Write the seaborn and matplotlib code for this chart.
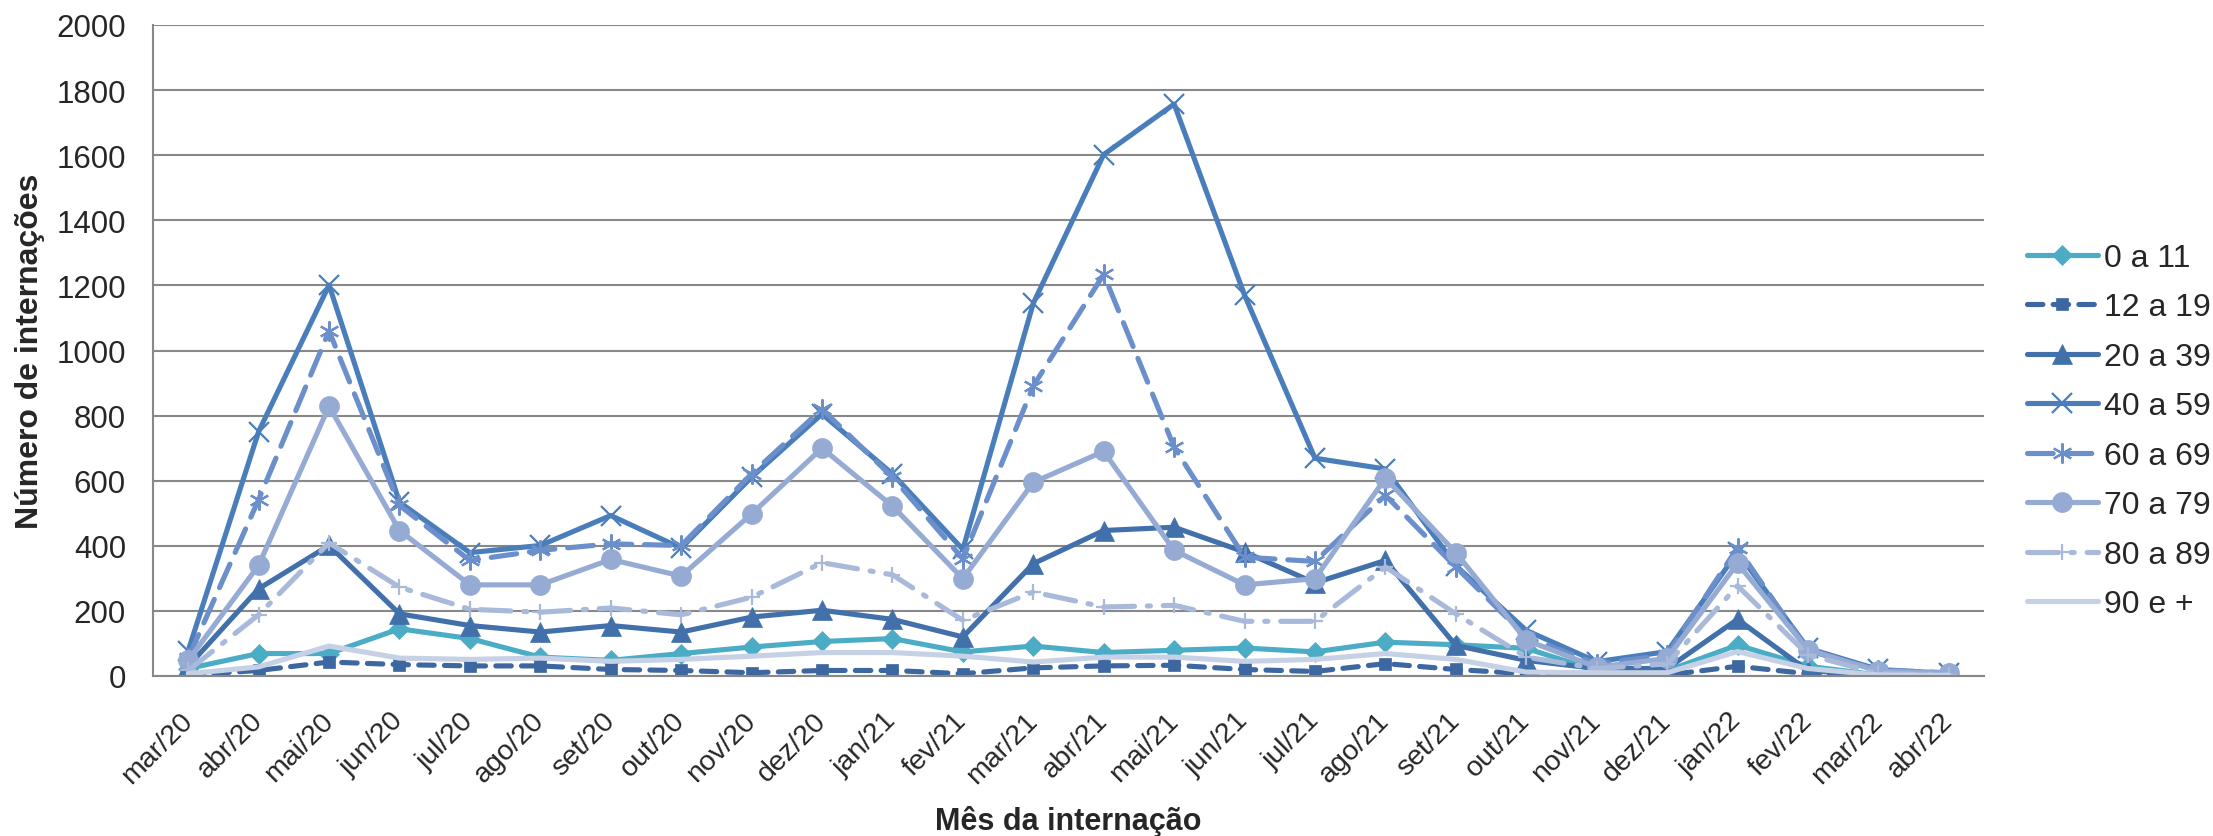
import numpy as np
import pandas as pd
import seaborn as sns
import matplotlib.pyplot as plt
from matplotlib.ticker import FixedLocator, MultipleLocator

months = ['mar/20', 'abr/20', 'mai/20', 'jun/20', 'jul/20', 'ago/20', 'set/20', 'out/20',
          'nov/20', 'dez/20', 'jan/21', 'fev/21', 'mar/21', 'abr/21', 'mai/21', 'jun/21',
          'jul/21', 'ago/21', 'set/21', 'out/21', 'nov/21', 'dez/21', 'jan/22', 'fev/22',
          'mar/22', 'abr/22']

age_0_11 = [23, 69, 69, 145, 115, 58, 48, 69, 89, 106, 115, 74, 92, 72, 79, 86, 74, 104, 96, 85, 16, 16, 95, 30, 3, 1]
age_12_19 = [3, 17, 43, 35, 31, 31, 20, 17, 10, 17, 17, 7, 25, 31, 33, 20, 14, 38, 20, 7, 7, 3, 30, 7, 2, 1]
age_20_39 = [30, 268, 401, 191, 155, 135, 155, 135, 181, 202, 174, 120, 345, 447, 457, 381, 286, 355, 94, 48, 23, 23, 174, 16, 5, 2]
age_40_59 = [78, 751, 1201, 534, 379, 401, 493, 393, 611, 805, 621, 389, 1145, 1602, 1757, 1170, 669, 636, 339, 140, 44, 75, 380, 85, 20, 8]
age_60_69 = [55, 542, 1060, 524, 355, 386, 406, 401, 621, 820, 611, 360, 891, 1234, 703, 365, 352, 555, 335, 120, 37, 65, 394, 78, 18, 10]
age_70_79 = [48, 340, 829, 447, 280, 280, 358, 307, 498, 700, 522, 299, 595, 690, 386, 280, 299, 608, 379, 110, 27, 54, 346, 81, 15, 8]
age_80_89 = [17, 188, 409, 273, 205, 196, 209, 188, 242, 348, 311, 171, 258, 212, 217, 168, 168, 335, 191, 58, 23, 37, 277, 65, 8, 3]
age_90 = [7, 28, 92, 55, 51, 55, 45, 51, 61, 72, 72, 61, 43, 58, 58, 45, 51, 69, 51, 12, 10, 10, 75, 23, 3, 2]

series = {
    '0 a 11': age_0_11,
    '12 a 19': age_12_19,
    '20 a 39': age_20_39,
    '40 a 59': age_40_59,
    '60 a 69': age_60_69,
    '70 a 79': age_70_79,
    '80 a 89': age_80_89,
    '90 e +': age_90,
}

# colour, marker, marker size, dash pattern (None = solid)
looks = {
    '0 a 11': ('#4BACC6', 'D', 10, None),
    '12 a 19': ('#3C67A0', 's', 8.6, (3, 2)),
    '20 a 39': ('#4170AA', '^', 14.4, None),
    '40 a 59': ('#4A7EBB', 'x', 14.4, None),
    '60 a 69': ('#6B8FCB', (6, 2, 0), 14.4, (5, 2.5)),
    '70 a 79': ('#95ABD4', 'o', 14.4, None),
    '80 a 89': ('#A8B9DA', '+', 12, (6, 2.5, 0.6, 2.5)),
    '90 e +': ('#C6D1E5', None, 0, None),
}

df = pd.DataFrame({'Mes': months * len(series),
                   'Faixa': np.repeat(list(series.keys()), len(months)),
                   'Internacoes': np.concatenate([series[k] for k in series])})

sns.set_style('white')
plt.rcParams['font.family'] = ['Liberation Sans', 'DejaVu Sans']

W, H = 2213, 837
fig = plt.figure(figsize=(W / 100, H / 100), dpi=100)
left, right, top, bottom = 153, 1984, 26, 677
ax = fig.add_axes([left / W, 1 - bottom / H, (right - left) / W, (bottom - top) / H])

for name in series:
    color, marker, ms, dash = looks[name]
    sub = df[df['Faixa'] == name]
    thin = marker in ('x', '+', (6, 2, 0))
    sns.lineplot(data=sub, x='Mes', y='Internacoes', ax=ax, sort=False, color=color,
                 marker=marker, markersize=ms, linewidth=3.7, label=name,
                 markeredgecolor=color, markeredgewidth=1.6 if thin else 0.5)
    line = ax.lines[-1]
    if dash is not None:
        line.set_dashes(dash)
        line.set_dash_capstyle('round')

ax.set_ylim(0, 2000)
ax.set_xlim(-0.5, len(months) - 0.5)
ax.yaxis.set_major_locator(MultipleLocator(200))
ax.grid(axis='y', color='#888888', linewidth=1.5)
ax.grid(axis='x', visible=False)
ax.set_axisbelow(True)

for side in ['top', 'right']:
    ax.spines[side].set_visible(False)
for side in ['left', 'bottom']:
    ax.spines[side].set_color('#888888')
    ax.spines[side].set_linewidth(1.5)

ax.xaxis.set_minor_locator(FixedLocator(np.arange(-0.5, len(months), 1.0)))
ax.tick_params(axis='x', which='major', length=0, pad=29, labelsize=20.5)
ax.tick_params(axis='x', which='minor', length=6, width=1.5, color='#888888', direction='out')
ax.tick_params(axis='y', which='major', length=6.5, width=1.5, color='#888888', direction='out',
               labelsize=22.5, pad=13)
for lbl in ax.get_xticklabels():
    lbl.set_rotation(45)
    lbl.set_ha('right')
    lbl.set_va('center')
    lbl.set_rotation_mode('anchor')

ax.set_xlabel('')
ax.set_ylabel('')
fig.text((left + right) / 2 / W, 7 / H, 'Mês da internação', fontsize=22, fontweight='bold',
         ha='center', va='baseline')
fig.text(30 / W, 1 - (top + bottom) / 2 / H, 'Número de internações', fontsize=23,
         fontweight='bold', rotation=90, ha='center', va='center')

leg = ax.legend(loc='center left', bbox_to_anchor=((2027 - left) / (right - left), (bottom - 432) / (bottom - top)),
                frameon=False, fontsize=23, handlelength=2.22, handletextpad=0.19,
                labelspacing=0.61, borderaxespad=0, borderpad=0)

fig.savefig('out.png', dpi=100)
